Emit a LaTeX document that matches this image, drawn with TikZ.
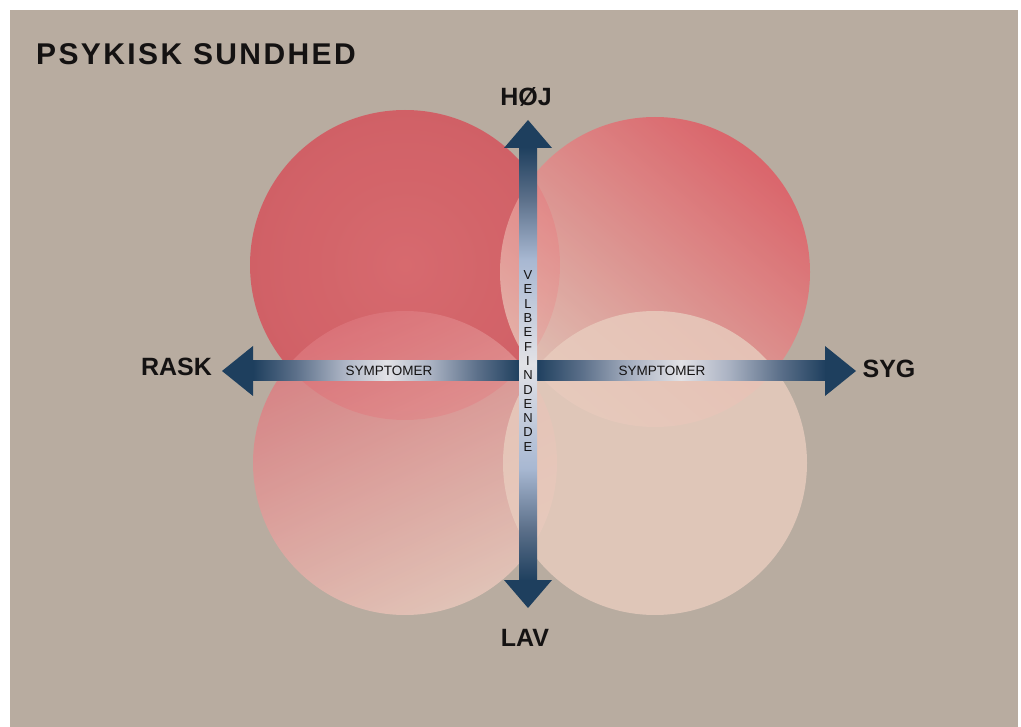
\documentclass[tikz,border=0pt]{standalone}
\usepackage{fontspec}
\setmainfont{Liberation Sans}
\newfontfamily\titlefont[LetterSpace=8]{Liberation Sans}
\usetikzlibrary{calc}

\definecolor{paper}{RGB}{184,172,160}
\definecolor{inktext}{RGB}{20,18,18}
\definecolor{axisnavy}{RGB}{30,63,94}
\definecolor{axismid}{RGB}{92,112,138}
\definecolor{axispale}{RGB}{172,180,196}
\definecolor{axiswhite}{RGB}{226,226,230}
\definecolor{vbarpale}{RGB}{168,184,210}
\definecolor{tlred}{RGB}{214,80,90}
\definecolor{tlredin}{RGB}{222,92,100}
\definecolor{trred}{RGB}{226,86,96}
\definecolor{trpale}{RGB}{232,196,184}
\definecolor{blpink}{RGB}{220,118,124}
\definecolor{blpale}{RGB}{234,200,188}
\definecolor{brpale}{RGB}{232,204,190}

% shaft shadings: dark at both ends, light in the middle
\pgfdeclarehorizontalshading{symptomshade}{100bp}{color(0bp)=(axisnavy); color(25bp)=(axisnavy);
  color(33bp)=(axismid); color(42bp)=(axispale); color(50bp)=(axiswhite); color(58bp)=(axispale);
  color(67bp)=(axismid); color(75bp)=(axisnavy); color(100bp)=(axisnavy)}
\pgfdeclareverticalshading{velbefshade}{100bp}{color(0bp)=(axisnavy); color(25bp)=(axisnavy);
  color(31bp)=(axismid); color(38bp)=(vbarpale); color(50bp)=(axiswhite); color(62bp)=(vbarpale);
  color(69bp)=(axismid); color(75bp)=(axisnavy); color(100bp)=(axisnavy)}

\tikzset{
  bigcircle/.style={fill opacity=0.82, draw=none},
  hshaft/.style={shading=symptomshade},
  vshaft/.style={shading=velbefshade},
  axishead/.style={fill=axisnavy},
  poletext/.style={font=\fontsize{25}{28}\selectfont\bfseries, text=inktext, inner sep=0pt},
  axistext/.style={font=\fontsize{13.5}{15}\selectfont, text=inktext, inner sep=0pt},
}

\begin{document}
\begin{tikzpicture}[x=1pt, y=-1pt]
  % paper
  \fill[white] (0,0) rectangle (1021,727);
  \fill[paper] (10,10) rectangle (1018,727);
  \useasboundingbox (0,0) rectangle (1021,727);

  % title
  \node[anchor=base west, inner sep=0pt, text=inktext, font=\titlefont\fontsize{30}{34}\selectfont\bfseries]
    (title) at (36,65) {PSYKISK SUNDHED};

  % four circles
  \shade[bigcircle, inner color=tlredin, outer color=tlred] (405,265) circle (155);
  \shade[bigcircle, top color=trred, bottom color=trpale, shading angle=-40] (655,272) circle (155);
  \shade[bigcircle, left color=blpink, right color=blpale, shading angle=25] (405,463) circle (152);
  \fill[bigcircle, brpale] (655,463) circle (152);

  % axis points
  \coordinate (c) at (528,371);
  \coordinate (wtip) at (222,371);
  \coordinate (etip) at (856,371);
  \coordinate (ntip) at (528,120);
  \coordinate (stip) at (528,608);

  % horizontal axis (symptomer)
  \shade[hshaft] (253,361) rectangle (520,381);
  \shade[hshaft] (536,361) rectangle (826,381);
  \fill[axishead] (wtip) -- ($(wtip)+(31,-25)$) -- ($(wtip)+(31,25)$) -- cycle;
  \fill[axishead] (etip) -- ($(etip)+(-31,-25)$) -- ($(etip)+(-31,25)$) -- cycle;

  % vertical axis (velbefindende)
  \shade[vshaft] (519,147) rectangle (537,581);
  \fill[axishead] (ntip) -- ($(ntip)+(-24,28)$) -- ($(ntip)+(24,28)$) -- cycle;
  \fill[axishead] (stip) -- ($(stip)+(-24,-28)$) -- ($(stip)+(24,-28)$) -- cycle;

  % pole labels
  \node[poletext] (hoej) at (526,97) {HØJ};
  \node[poletext] (lav) at (525,638) {LAV};
  \node[poletext] (rask) at (176.5,367) {RASK};
  \node[poletext] (syg) at (889,369) {SYG};

  % axis labels
  \node[axistext] (sympleft) at (389,371) {SYMPTOMER};
  \node[axistext] (sympright) at (662,371) {SYMPTOMER};
  \node[axistext, align=center, font=\fontsize{13}{14.3}\selectfont] (velbef) at (528,361)
    {V\\E\\L\\B\\E\\F\\I\\N\\D\\E\\N\\D\\E};
\end{tikzpicture}
\end{document}
